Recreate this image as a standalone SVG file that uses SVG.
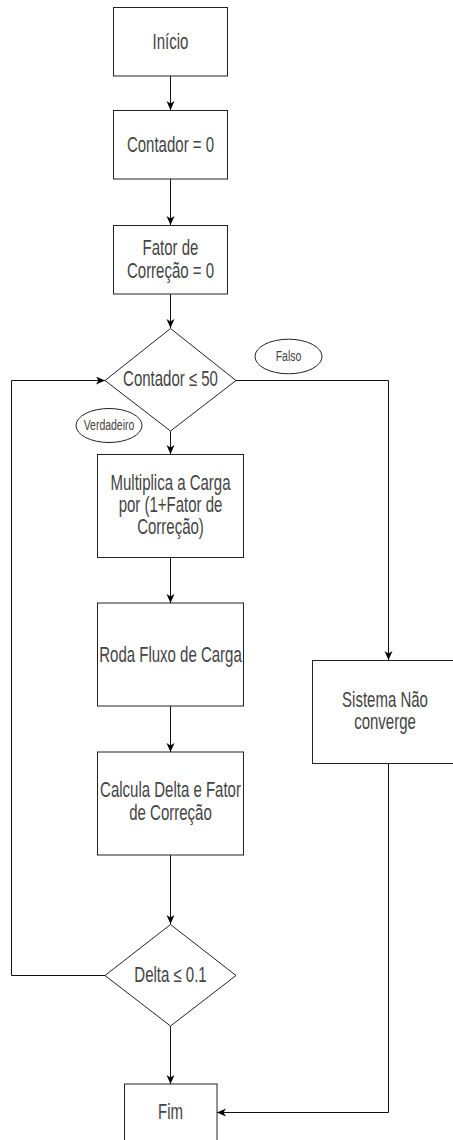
<svg xmlns="http://www.w3.org/2000/svg" width="453" height="1140" viewBox="0 0 453 1140">
<defs>
<marker id="arr" markerUnits="userSpaceOnUse" markerWidth="10" markerHeight="9" refX="9" refY="4" orient="auto">
<path d="M0,0 L9,4 L0,8 L2.5,4 z" fill="#000"/>
</marker>
<style>
.box{fill:#fff;stroke:#222;stroke-width:1}
.lbl{fill:#fff;stroke:#222;stroke-width:1}
.ln{fill:none;stroke:#111;stroke-width:1}
text{font-family:"Liberation Sans",Arial,sans-serif;fill:#444;text-anchor:middle}
.t{font-size:15px}
.s{font-size:10.5px}
</style>
</defs>
<rect x="0" y="0" width="453" height="1140" fill="#fff"/>
<g id="connectors">
<path class="ln" d="M170.5,76 V110" marker-end="url(#arr)"/>
<path class="ln" d="M170.5,179 V225" marker-end="url(#arr)"/>
<path class="ln" d="M170.5,294 V328" marker-end="url(#arr)"/>
<path class="ln" d="M170.5,431 V454" marker-end="url(#arr)"/>
<path class="ln" d="M170.5,557 V603" marker-end="url(#arr)"/>
<path class="ln" d="M170.5,706 V752" marker-end="url(#arr)"/>
<path class="ln" d="M170.5,855 V924" marker-end="url(#arr)"/>
<path class="ln" d="M170.5,1026 V1084" marker-end="url(#arr)"/>
<path class="ln" d="M236,380.5 H388.5 V660" marker-end="url(#arr)"/>
<path class="ln" d="M105,975.5 H11.5 V380.5 H105" marker-end="url(#arr)"/>
<path class="ln" d="M388.5,763 V1112.5 H217" marker-end="url(#arr)"/>
</g>
<g id="inicio">
<rect class="box" x="113.5" y="7.5" width="114" height="68.5"/>
<text class="t" transform="translate(170.5,49) scale(1,1.42)">Início</text>
</g>
<g id="contador0">
<rect class="box" x="113.5" y="110.5" width="114" height="68.5"/>
<text class="t" transform="translate(170.5,152) scale(1,1.42)">Contador = 0</text>
</g>
<g id="fator0">
<rect class="box" x="113.5" y="225.5" width="114" height="68.5"/>
<text class="t" transform="translate(170.5,255) scale(1,1.42)">Fator de</text>
<text class="t" transform="translate(170.5,277.5) scale(1,1.42)">Correção = 0</text>
</g>
<g id="cond50">
<polygon class="box" points="170.5,328.5 236,380.5 170.5,431 105,380.5"/>
<text class="t" transform="translate(170.5,386) scale(1,1.42)">Contador ≤ 50</text>
</g>
<g id="falso">
<ellipse class="lbl" cx="288.5" cy="356.5" rx="33.5" ry="17.3"/>
<text class="s" transform="translate(288.5,360.5) scale(1,1.42)">Falso</text>
</g>
<g id="verdadeiro">
<ellipse class="lbl" cx="109" cy="425.5" rx="33" ry="17"/>
<text class="s" transform="translate(109,430) scale(1,1.42)">Verdadeiro</text>
</g>
<g id="multiplica">
<rect class="box" x="97.5" y="454.5" width="146" height="103"/>
<text class="t" transform="translate(170.5,490) scale(1,1.42)">Multiplica a Carga</text>
<text class="t" transform="translate(170.5,512.3) scale(1,1.42)">por (1+Fator de</text>
<text class="t" transform="translate(170.5,534.3) scale(1,1.42)">Correção)</text>
</g>
<g id="roda">
<rect class="box" x="97.5" y="603" width="146" height="103"/>
<text class="t" transform="translate(170.5,661.7) scale(1,1.42)">Roda Fluxo de Carga</text>
</g>
<g id="calcula">
<rect class="box" x="97.5" y="752" width="146" height="103"/>
<text class="t" transform="translate(170.5,797.3) scale(1,1.42)">Calcula Delta e Fator</text>
<text class="t" transform="translate(170.5,820) scale(1,1.42)">de Correção</text>
</g>
<g id="sistema">
<rect class="box" x="312.5" y="660.5" width="152" height="103"/>
<text class="t" transform="translate(385,707.3) scale(1,1.42)">Sistema Não</text>
<text class="t" transform="translate(385,729.3) scale(1,1.42)">converge</text>
</g>
<g id="delta">
<polygon class="box" points="170.5,924.5 236,975.5 170.5,1026 105,975.5"/>
<text class="t" transform="translate(170.5,981.7) scale(1,1.42)">Delta ≤ 0.1</text>
</g>
<g id="fim">
<rect class="box" x="124.5" y="1084" width="92.5" height="60"/>
<text class="t" transform="translate(170.5,1119) scale(1,1.42)">Fim</text>
</g>
</svg>
